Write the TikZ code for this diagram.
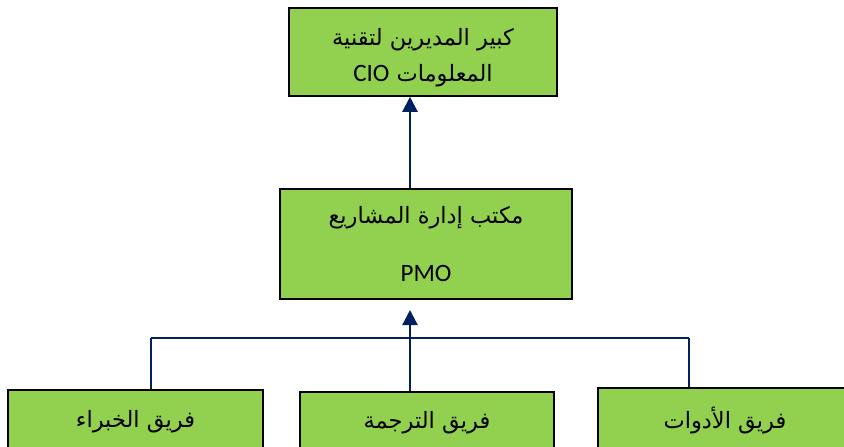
\documentclass[tikz,border=0pt]{standalone}
\usepackage{fontspec}
\usetikzlibrary{arrows.meta}
\TeXXeTstate=1
\newfontfamily\arabicfont[Script=Arabic]{DejaVu Sans}
\newfontfamily\latinfont{Carlito}
\definecolor{boxgreen}{RGB}{146,208,80}
\definecolor{linknavy}{RGB}{0,32,96}

\begin{document}
\begin{tikzpicture}[x=1pt, y=-1pt, >={Triangle[width=15pt,length=15pt]}]

        \useasboundingbox (0,0) rectangle (844,447);

        \tikzset{
            unit/.style={rectangle, draw=black, line width=1.6pt, fill=boxgreen, inner sep=0pt, align=center, font=\arabicfont\fontsize{22.5}{36}\selectfont},
            link/.style={draw=linknavy, line width=2.2pt},
            drop/.style={draw=linknavy, line width=1.3pt}
        }

        \node[unit, minimum width=268pt, minimum height=88pt] (cio) at (423,52) {\rule{0pt}{28pt}\beginR كبير المديرين لتقنية\endR\\ \beginR المعلومات {\latinfont\fontsize{25}{24}\selectfont\beginL CIO\endL}\endR};

        \node[unit, minimum width=292pt, minimum height=110pt, font=\arabicfont\fontsize{22.5}{58}\selectfont] (pmo) at (426,244) {\beginR مكتب إدارة المشاريع\endR\\ {\latinfont\fontsize{25}{24}\selectfont PMO}};

        \node[unit, minimum width=255pt, minimum height=64pt] (experts) at (135.5,422) {\beginR فريق الخبراء\endR};
        \node[unit, minimum width=254pt, minimum height=62pt] (translation) at (427,423) {\beginR فريق الترجمة\endR};
        \node[unit, minimum width=254pt, minimum height=66pt] (tools) at (725,421) {\beginR فريق الأدوات\endR};

        \coordinate (spine) at (410,310);
        \coordinate (barL) at (151,338);
        \coordinate (barR) at (689,338);

        \draw[link, ->] (pmo.north -| spine) -- (cio.south -| spine);
        \draw[link, ->] (translation.north -| spine) -- (spine);

        \draw[link] (barL) -- (barR);
        \draw[drop] (barL) -- (barL |- experts.north);
        \draw[drop] (barR) -- (barR |- tools.north);

    \end{tikzpicture}
\end{document}
